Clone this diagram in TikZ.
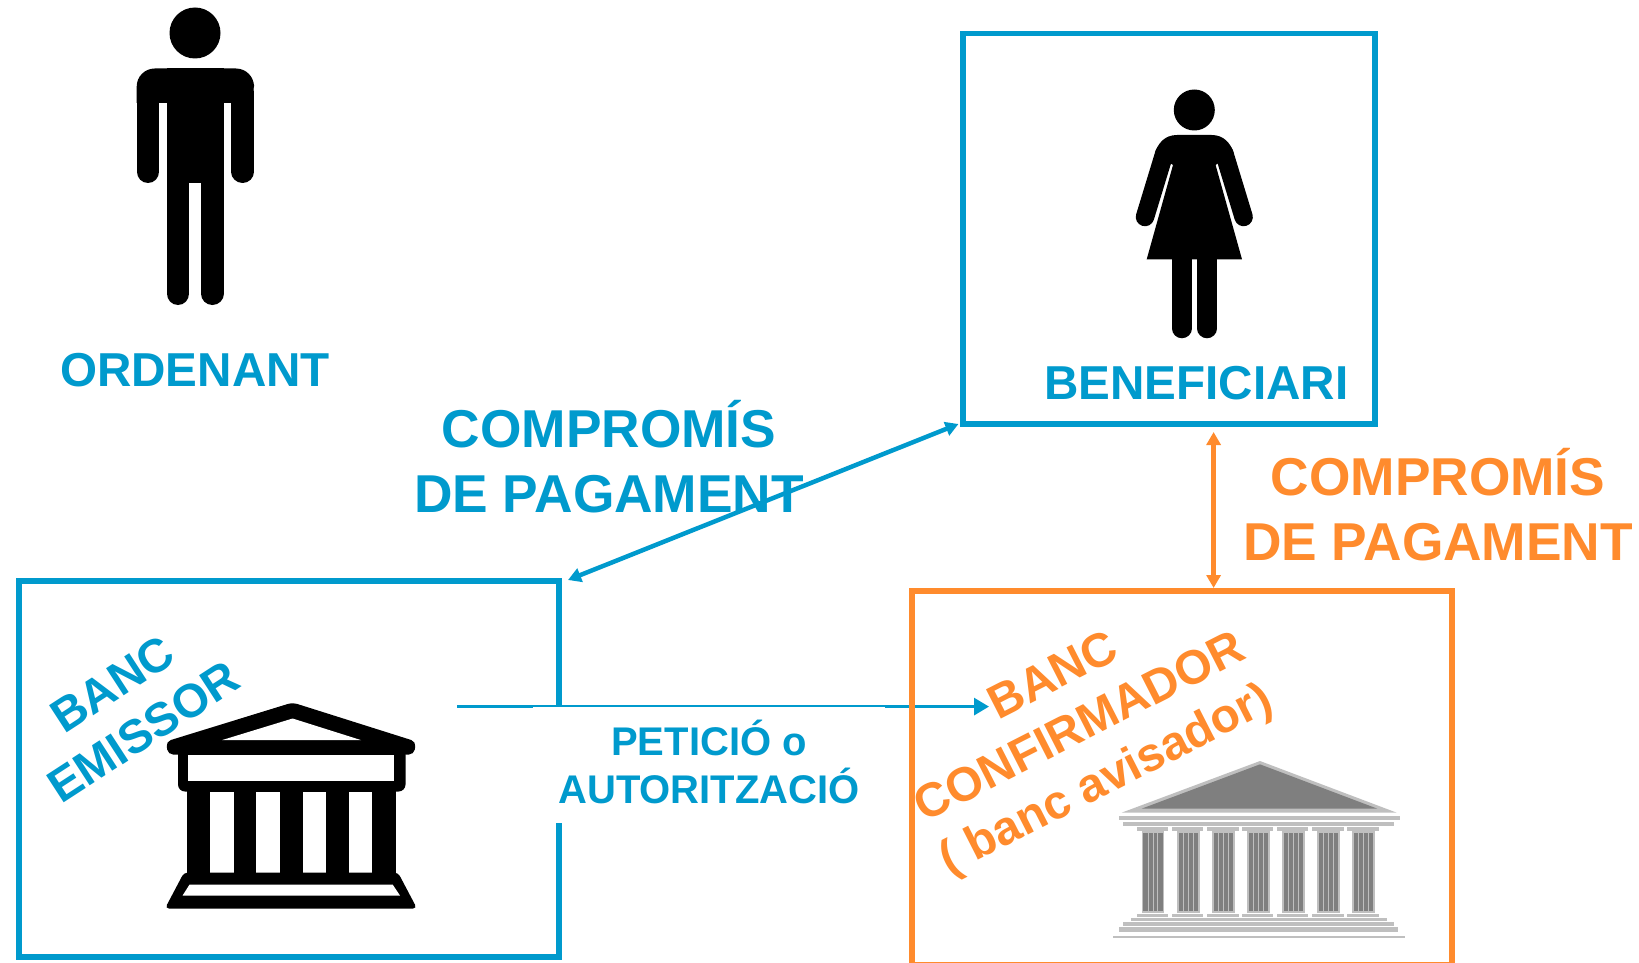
\documentclass[tikz,border=0pt]{standalone}
\usepackage{fontspec}
\setmainfont{Liberation Sans}
\usetikzlibrary{arrows.meta}
\definecolor{cblue}{HTML}{009ACD}
\definecolor{corange}{HTML}{FF8B2D}
\definecolor{glight}{HTML}{BFBFBF}
\definecolor{gdark}{HTML}{7F7F7F}
\newcommand\fsz[2]{\fontsize{#1}{#2}\selectfont\bfseries}
\tikzset{
  framebox/.style={draw,line width=5.5pt,inner sep=0,outer sep=0,fill=none},
  lbl/.style={inner sep=0,outer sep=0,align=center},
  bluelbl/.style={lbl,text=cblue},
  orangelbl/.style={lbl,text=corange},
  dbl/.style={line width=4.5pt,{Triangle[length=13pt,width=14pt]}-{Triangle[length=13pt,width=14pt]}},
}
\begin{document}
\begin{tikzpicture}[x=1pt,y=-1pt]
\useasboundingbox (0,0) rectangle (1639,963);
\fill[white] (0,0) rectangle (1639,963);

% man
\fill (195,33) circle[radius=25.5pt];
\fill[rounded corners=18pt] (136.7,103) -- (136.7,68.5) -- (254,68.5) -- (254,103) [sharp corners] -- cycle;
\fill (166.7,68.5) rectangle (223.7,183);
\draw[line width=22.6pt,line cap=round] (148,92) -- (148,171.7);
\draw[line width=22.6pt,line cap=round] (242.6,92) -- (242.6,171.7);
\draw[line width=22.8pt,line cap=round] (178,170) -- (178,293.6);
\draw[line width=22.8pt,line cap=round] (212.3,170) -- (212.3,293.6);
\node[bluelbl,font=\fsz{47.6}{50}] (ordenant) at (195,370) {ORDENANT};

% beneficiari box
\node[framebox,draw=cblue,minimum width=412pt,minimum height=390.5pt] (benefBox) at (1169,228.75) {};
\fill (1194.3,110) circle[radius=20.5pt];
\fill (1177,135) .. controls (1165,135) and (1158,143) .. (1155,153) -- (1173,165) -- (1146.7,259.3) -- (1242,259.3) -- (1215.6,165) -- (1233.6,153) .. controls (1230.6,143) and (1223.6,135) .. (1211.6,135) -- cycle;
\draw[line width=18.5pt,line cap=round] (1164.5,153) -- (1145,217);
\draw[line width=18.5pt,line cap=round] (1224.1,153) -- (1243.6,217);
\draw[line width=19.5pt,line cap=round] (1181.8,250) -- (1181.8,328.5);
\draw[line width=19.5pt,line cap=round] (1207,250) -- (1207,328.5);
\node[bluelbl,font=\fsz{47.6}{50}] (benef) at (1196.5,383) {BENEFICIARI};

% payment labels
\node[bluelbl,font=\fsz{53.3}{65}] (compBlue) at (609,456.5) {COMPROMÍS\\DE PAGAMENT};
\node[orangelbl,font=\fsz{53.3}{65}] (compOrange) at (1438,505) {COMPROMÍS\\DE PAGAMENT};

% emissor box
\node[framebox,draw=cblue,minimum width=540pt,minimum height=376pt] (emBox) at (289,769) {};
\node[bluelbl,font=\fsz{47}{57},rotate=33] (emLbl) at (128,708) {BANC\\EMISSOR};

% emissor bank icon
\begin{scope}[shift={(0,2.5)}]
\fill[rounded corners=5pt] (292.6,700) -- (416,739) -- (414,752) -- (168,752) -- (166,739) -- cycle;
\fill[white] (292.6,716) -- (361,737.6) -- (222,737.6) -- cycle;
\fill[rounded corners=7pt] (178,745) -- (178,789) -- (405.5,789) -- (405.5,745) [sharp corners] -- cycle;
\fill[white] (188,752) rectangle (393.7,778);
\fill (187,785) rectangle (395.5,875);
\foreach \a/\b in {210.4/234,256.3/280,302.6/326.3,349/372}
  \fill[white] (\a,789) rectangle (\b,871);
\fill[rounded corners=4pt] (184,870) -- (398,870) -- (417,906) -- (165,906) -- cycle;
\fill[white] (189.6,882) -- (392.6,882) -- (400,893) -- (182.6,893) -- cycle;
\end{scope}

% request arrow and label
\coordinate (reqStart) at (457,706.6);
\coordinate (reqEnd) at (989,706.6);
\draw[cblue,line width=3pt,-{Triangle[length=15pt,width=17pt]}] (reqStart) -- (reqEnd);
\node[bluelbl,fill=white,minimum width=352pt,minimum height=116.5pt,font=\fsz{40}{47.5}] (req) at (709,764.75) {};
\node[bluelbl,font=\fsz{40}{47.5}] (reqText) at (709,762) {PETICIÓ o\\AUTORITZACIÓ};

% confirmador box
\node[framebox,draw=corange,minimum width=540pt,minimum height=374pt] (confBox) at (1182,778) {};
\node[orangelbl,font=\fsz{47.7}{58},rotate=27] (confLbl) at (1081,730) {BANC\\CONFIRMADOR\\( banc avisador)};

% connectors
\coordinate (blueA) at (568,580);
\coordinate (blueB) at (958.5,424);
\draw[dbl,cblue] (blueA) -- (blueB);
\coordinate (orA) at (1213.6,432);
\coordinate (orB) at (1213.6,588);
\draw[dbl,corange] (orA) -- (orB);

% grey bank icon
\begin{scope}[shift={(1100,750)},x=0.33333pt,y=-0.33333pt]
\fill[glight] (480,33) -- (890,188) -- (65,188) -- cycle;
\fill[gdark] (480,43) -- (832,176) -- (125,176) -- cycle;
\fill[glight] (57,198) rectangle (900,210);
\fill[glight] (69,216) rectangle (882,228);
\foreach \a/\b in {111/204,216/309,321/417,426/519,531/624,636/732,741/837}{
  \fill[glight] (\a,231) rectangle (\b,243);
  \fill[glight] (\a,491) rectangle (\b,501);
}
\foreach \a in {125,231,336,441,546,651,756}{
  \fill[glight] (\a,243) rectangle ++(68,246);
  \fill[gdark] (\a+5,248) rectangle ++(58,236);
  \foreach \k in {19,33,47}
    \fill[glight] (\a+\k,248) rectangle ++(3,236);
}
\fill[glight] (93,504) rectangle (861,513);
\fill[glight] (69,516) rectangle (882,528);
\fill[glight] (57,531) rectangle (894,546);
\fill[glight] (39,558) rectangle (915,564);
\end{scope}
\end{tikzpicture}
\end{document}
